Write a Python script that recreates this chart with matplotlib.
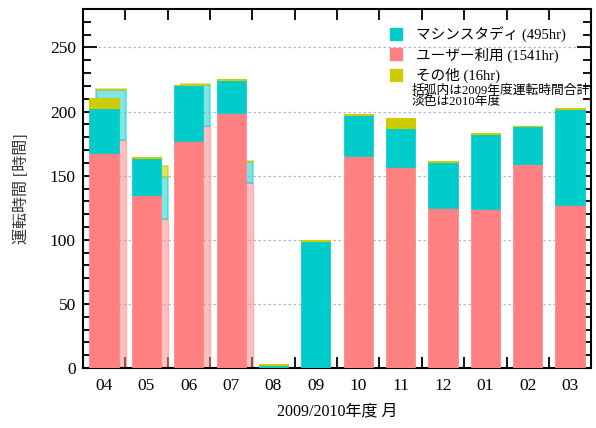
import matplotlib.pyplot as plt
from matplotlib.lines import Line2D
import numpy as np

plt.rcParams['font.family'] = ['Liberation Serif', 'Noto Sans CJK JP']

months = ['04', '05', '06', '07', '08', '09', '10', '11', '12', '01', '02', '03']

# 2009 (main bars)
user_2009 = [168, 135, 177, 199, 0.7, 1, 165, 157, 125, 124, 159, 127]
ms_2009 = [35, 29, 43.5, 26, 1.8, 98, 32, 30, 36, 58.5, 29.5, 75]
other_2009 = [7.5, 0.5, 0.5, 0.5, 1.0, 0.8, 0.8, 8, 0.5, 0.5, 0.5, 0.5]

# 2010 (light bars, only first months)
months_2010 = ['04', '05', '06', '07']
user_2010 = [178, 116, 189, 144]
ms_2010 = [39, 33, 31.5, 17]
other_2010 = [1, 8.5, 0.8, 0.8]

c_ms = '#00cccc'
c_user = '#ff8080'
c_other = '#cccc00'

fig = plt.figure(figsize=(5.96, 4.28), dpi=100)
ax = fig.add_axes([0.139, 0.140, 0.853, 0.839])

x = np.arange(len(months)) + 0.5
w = 0.69
x10 = np.arange(len(months_2010)) + 0.5 + 0.165

# light 2010 bars behind
b1 = np.array(user_2010)
b2 = b1 + np.array(ms_2010)
ax.bar(x10, user_2010, w, color=c_user, alpha=0.5, edgecolor=c_user, linewidth=1, zorder=2)
ax.bar(x10, ms_2010, w, bottom=b1, color=c_ms, alpha=0.5, edgecolor=c_ms, linewidth=1.2, zorder=2)
ax.bar(x10, other_2010, w, bottom=b2, color=c_other, alpha=0.6, edgecolor=c_other, linewidth=1.2, zorder=2)

# 2009 bars
a1 = np.array(user_2009)
a2 = a1 + np.array(ms_2009)
ax.bar(x, user_2009, w, color=c_user, edgecolor=c_user, linewidth=0.5, zorder=3)
ax.bar(x, ms_2009, w, bottom=a1, color=c_ms, edgecolor=c_ms, linewidth=0.5, zorder=3)
ax.bar(x, other_2009, w, bottom=a2, color=c_other, edgecolor=c_other, linewidth=0.8, zorder=3)

ax.set_xlim(0, 12)
ax.set_ylim(0, 280)

for yv in [50, 100, 150, 200, 250]:
    ax.axhline(yv, color='#b0b0ff', linestyle=(0, (2, 2)), linewidth=0.9, zorder=1)

ax.set_yticks(np.arange(0, 251, 50))
ax.set_yticks(np.arange(0, 281, 10), minor=True)
ax.set_xticks(np.arange(1, 12))
ax.set_xticklabels([])
ax.set_xticks(x, minor=True)
ax.set_xticklabels(months, minor=True)

ax.tick_params(axis='y', which='major', direction='in', length=10, width=1.3,
               right=True, labelsize=12.5, pad=5)
ax.tick_params(axis='y', which='minor', direction='in', length=6, width=1.3, right=True)
ax.tick_params(axis='x', which='major', direction='in', length=8, width=1.3, top=True)
ax.tick_params(axis='x', which='minor', length=0, labelsize=12.5, pad=7)

for s in ax.spines.values():
    s.set_linewidth(1.5)

ax.set_ylabel('運転時間 [時間]', fontsize=11.5, color='#333333', labelpad=14)
ax.set_xlabel('2009/2010年度 月', fontsize=11.5, labelpad=7)

handles = [
    Line2D([], [], marker='s', linestyle='', color=c_ms, markersize=9),
    Line2D([], [], marker='s', linestyle='', color=c_user, markersize=9),
    Line2D([], [], marker='s', linestyle='', color=c_other, markersize=9),
]
labels = ['マシンスタディ (495hr)', 'ユーザー利用 (1541hr)', 'その他 (16hr)']
leg = ax.legend(handles, labels, loc='upper left', bbox_to_anchor=(0.640, 0.955),
                bbox_transform=fig.transFigure, frameon=False, fontsize=10.5,
                handlelength=1.0, handletextpad=0.85, labelspacing=0.34, borderpad=0)
leg.set_zorder(5)

fig.text(0.691, 0.789, '括弧内は2009年度運転時間合計', fontsize=9.2, va='center')
fig.text(0.691, 0.761, '淡色は2010年度', fontsize=9.2, va='center')

fig.savefig('out.png', dpi=100)
